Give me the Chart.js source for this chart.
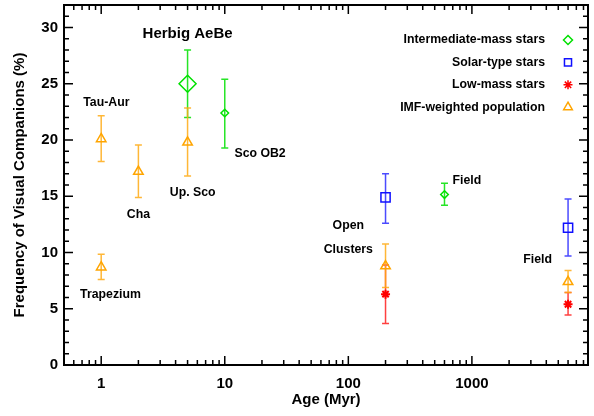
<!DOCTYPE html>
<html>
<head>
<meta charset="utf-8">
<script src="https://cdn.jsdelivr.net/npm/chart.js@4.4.1/dist/chart.umd.min.js"></script>
<style>
  html, body { margin: 0; padding: 0; background: #fff; }
  #wrap { width: 594px; height: 416px; }
</style>
</head>
<body>
<div id="wrap"><canvas id="chart" width="594" height="416"></canvas></div>
<script>
// Intermediate-mass stars (first point = Herbig AeBe)
const intermAge  = [5, 10, 600];
const intermFreq = [25.0, 22.4, 15.15];
const intermLow  = [22.0, 19.3, 14.2];
const intermHigh = [28.0, 25.4, 16.15];

// Solar-type stars
const solarAge  = [200, 6000];
const solarFreq = [14.9, 12.2];
const solarLow  = [12.6, 9.7];
const solarHigh = [17.0, 14.75];

// Low-mass stars
const lowAge  = [200, 6000];
const lowFreq = [6.3, 5.4];
const lowLow  = [3.7, 4.45];
const lowHigh = [8.9, 6.45];

// IMF-weighted population
const imfAge  = [1, 1, 2, 5, 200, 6000];
const imfFreq = [20.1, 8.7, 17.2, 19.8, 8.8, 7.4];
const imfLow  = [18.1, 7.6, 14.9, 16.8, 6.9, 6.45];
const imfHigh = [22.15, 9.85, 19.55, 22.85, 10.75, 8.4];

// region labels, anchored in data coordinates
const labelText = ['Herbig AeBe', 'Tau-Aur', 'Cha', 'Up. Sco', 'Sco OB2', 'Trapezium', 'Open', 'Clusters', 'Field', 'Field'];
const labelAge  = [5.0, 1.1, 2.0, 5.5, 19.3, 1.19, 100, 100, 910, 3400];
const labelFreq = [29.45, 23.3, 13.36, 15.29, 18.8, 6.3, 12.38, 10.3, 16.38, 9.35];

const yTickMax = 32;
const xMin = 0.5, xMax = 8700;

const FONT = "'Liberation Sans', Arial, Helvetica, sans-serif";
Chart.defaults.font.family = FONT;
Chart.defaults.color = '#000';

function points(ages, freq, lo, hi) {
    return ages.map((a, i) => ({ x: a, y: freq[i], yMin: lo[i], yMax: hi[i] }));
}

// error bars drawn under the markers
const errorBars = {
    id: 'errorBars',
    beforeDatasetsDraw(chart) {
        const { ctx, scales: { x, y } } = chart;
        chart.data.datasets.forEach(ds => {
            ctx.save();
            ctx.strokeStyle = ds.errorColor;
            ctx.lineWidth = 1.5;
            ds.data.forEach(p => {
                const px = x.getPixelForValue(p.x);
                const y0 = y.getPixelForValue(p.yMin);
                const y1 = y.getPixelForValue(p.yMax);
                ctx.beginPath();
                ctx.moveTo(px, y0); ctx.lineTo(px, y1);
                ctx.moveTo(px - 3.5, y0); ctx.lineTo(px + 3.5, y0);
                ctx.moveTo(px - 3.5, y1); ctx.lineTo(px + 3.5, y1);
                ctx.stroke();
            });
            ctx.restore();
        });
    }
};

// IDL-style box with inward ticks on all four sides
const frameTicks = {
    id: 'frameTicks',
    afterDraw(chart) {
        const { ctx, chartArea: a, scales: { x, y } } = chart;
        ctx.save();
        ctx.strokeStyle = '#000';
        ctx.lineWidth = 1.5;
        ctx.beginPath();
        y.ticks.forEach(t => {
            const py = y.getPixelForValue(t.value);
            const len = t.value % 5 === 0 ? 9 : 5;
            ctx.moveTo(a.left, py); ctx.lineTo(a.left + len, py);
            ctx.moveTo(a.right, py); ctx.lineTo(a.right - len, py);
        });
        x.ticks.forEach(t => {
            const e = Math.floor(Math.log10(t.value) + 1e-9);
            const m = t.value / Math.pow(10, e);
            if (Math.abs(m - Math.round(m)) > 1e-6) return;
            const px = x.getPixelForValue(t.value);
            if (px <= a.left + 1 || px >= a.right - 1) return;
            const len = Math.round(m) === 1 ? 9 : 5;
            ctx.moveTo(px, a.bottom); ctx.lineTo(px, a.bottom - len);
            ctx.moveTo(px, a.top); ctx.lineTo(px, a.top + len);
        });
        ctx.stroke();
        ctx.lineWidth = 2;
        ctx.strokeRect(a.left, a.top, a.right - a.left, a.bottom - a.top);
        ctx.restore();
    }
};

// text labels and the right-aligned legend
const annotations = {
    id: 'annotations',
    afterDraw(chart) {
        const { ctx, chartArea: a, scales: { x, y } } = chart;
        ctx.save();
        ctx.fillStyle = '#000';
        ctx.textAlign = 'center';
        ctx.textBaseline = 'middle';
        labelText.forEach((txt, i) => {
            ctx.font = (i === 0 ? 'bold 15px ' : 'bold 12.3px ') + FONT;
            ctx.fillText(txt, x.getPixelForValue(labelAge[i]), y.getPixelForValue(labelFreq[i]));
        });

        chart.data.datasets.forEach((ds, i) => {
            const ty = a.top + 35 + i * 22.4;
            ctx.font = 'bold 12.3px ' + FONT;
            ctx.textAlign = 'right';
            ctx.fillStyle = '#000';
            ctx.fillText(ds.label, a.right - 43, ty);
            ctx.strokeStyle = ds.borderColor;
            ctx.fillStyle = 'rgba(0,0,0,0)';
            ctx.lineWidth = 1.5;
            if (Chart.helpers && Chart.helpers.drawPoint) {
                Chart.helpers.drawPoint(ctx, {
                    pointStyle: ds.pointStyle,
                    radius: ds.legendRadius,
                    borderWidth: 1.5,
                    rotation: 0
                }, a.right - 20, ty);
            }
        });
        ctx.restore();
    }
};

const ctx = document.getElementById('chart').getContext('2d');

const chart = new Chart(ctx, {
    type: 'scatter',
    data: {
        datasets: [
            {
                label: 'Intermediate-mass stars',
                data: points(intermAge, intermFreq, intermLow, intermHigh),
                pointStyle: 'rectRot',
                borderColor: '#00e000',
                errorColor: 'rgba(0, 225, 0, 0.85)',
                backgroundColor: 'rgba(0,0,0,0)',
                pointRadius: c => c.dataIndex === 0 ? 8.5 : 3.8,
                pointBorderWidth: 1.5,
                legendRadius: 4.5
            },
            {
                label: 'Solar-type stars',
                data: points(solarAge, solarFreq, solarLow, solarHigh),
                pointStyle: 'rect',
                borderColor: '#1010ff',
                errorColor: 'rgba(30, 30, 255, 0.8)',
                backgroundColor: 'rgba(0,0,0,0)',
                pointRadius: 6.5,
                pointBorderWidth: 1.5,
                legendRadius: 5
            },
            {
                label: 'Low-mass stars',
                data: points(lowAge, lowFreq, lowLow, lowHigh),
                pointStyle: 'star',
                borderColor: '#ff0000',
                errorColor: 'rgba(255, 0, 0, 0.75)',
                backgroundColor: 'rgba(0,0,0,0)',
                pointRadius: 4.5,
                pointBorderWidth: 2,
                legendRadius: 4.5
            },
            {
                label: 'IMF-weighted population',
                data: points(imfAge, imfFreq, imfLow, imfHigh),
                pointStyle: 'triangle',
                borderColor: '#ffa500',
                errorColor: 'rgba(255, 170, 20, 0.85)',
                backgroundColor: 'rgba(0,0,0,0)',
                pointRadius: 5.5,
                pointBorderWidth: 1.5,
                legendRadius: 5
            }
        ]
    },
    options: {
        responsive: false,
        animation: false,
        layout: { autoPadding: false, padding: { left: 0, right: 6, top: 5, bottom: 0 } },
        plugins: {
            legend: { display: false },
            tooltip: { enabled: false }
        },
        scales: {
            x: {
                type: 'logarithmic',
                min: xMin,
                max: xMax,
                afterFit: s => { s.height = 51; s.paddingLeft = 0; s.paddingRight = 0; },
                grid: { display: false, drawTicks: false },
                border: { display: false },
                ticks: {
                    autoSkip: false,
                    maxRotation: 0,
                    padding: 10,
                    color: '#000',
                    font: { size: 15, weight: 'bold' },
                    callback: v => [1, 10, 100, 1000].includes(v) ? String(v) : ''
                },
                title: {
                    display: true,
                    text: 'Age (Myr)',
                    color: '#000',
                    font: { size: 15, weight: 'bold' },
                    padding: { top: 0, bottom: 7 }
                }
            },
            y: {
                type: 'linear',
                min: 0,
                max: yTickMax,
                afterFit: s => { s.width = 64; s.paddingTop = 0; s.paddingBottom = 0; },
                grid: { display: false, drawTicks: false },
                border: { display: false },
                ticks: {
                    stepSize: 1,
                    autoSkip: false,
                    padding: 6,
                    color: '#000',
                    font: { size: 15, weight: 'bold' },
                    callback: v => v % 5 === 0 ? String(v) : ''
                },
                title: {
                    display: true,
                    text: 'Frequency of Visual Companions (%)',
                    color: '#000',
                    font: { size: 15, weight: 'bold' },
                    padding: { top: 11, bottom: 0 }
                }
            }
        }
    },
    plugins: [errorBars, frameTicks, annotations]
});
</script>
</body>
</html>
